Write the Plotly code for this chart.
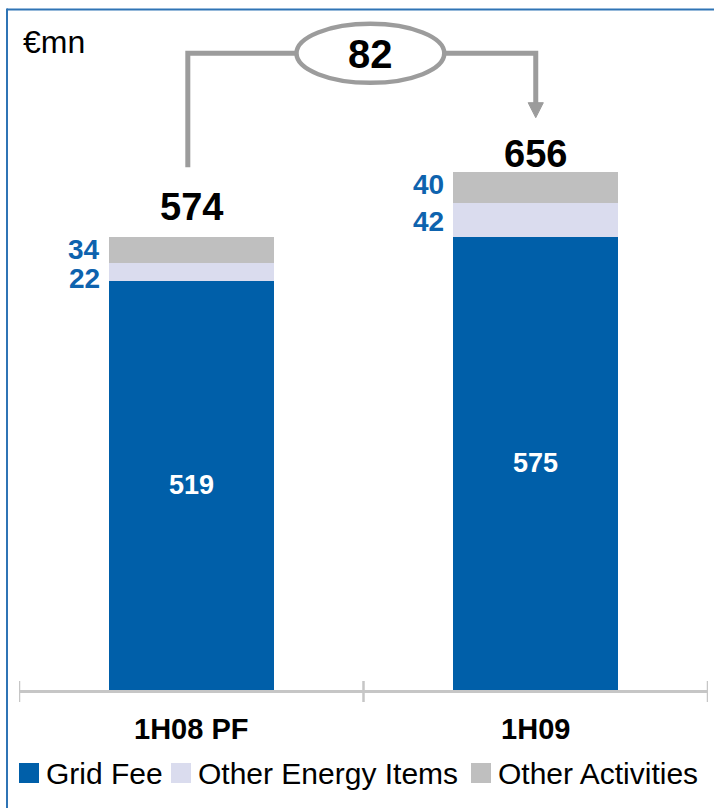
import plotly.graph_objects as go

# ---- data -------------------------------------------------------------
categories = ["1H08 PF", "1H09"]
series_names = ["Grid Fee", "Other Energy Items", "Other Activities"]
grid_fee = [519, 575]
other_energy = [22, 42]
other_activities = [34, 40]
totals = [574, 656]
unit_label = "€mn"

# ---- styling / geometry -------------------------------------------------
W, H = 714, 808
L, R, T, B = 19, 6, 0, 118
PW, PH = W - L - R, H - T - B
Y_MAX = 875
BAR_W = 0.48
FONT = "Liberation Sans, Arial, Helvetica, sans-serif"
C_BLUE = "#005FA9"
C_LIGHT = "#DADCEE"
C_GREY = "#BFBFBF"
C_LABEL = "#0E63AE"
C_BRACKET = "#9C9C9C"
C_AXIS = "#C6C6C6"
C_FRAME = "#2F74B5"
series_colors = [C_BLUE, C_LIGHT, C_GREY]


def pxx(px):
    """pixel x -> paper x"""
    return (px - L) / PW


def pxy(py):
    """pixel y -> paper y"""
    return (T + PH - py) / PH


def units(dpx):
    """vertical pixel distance -> y data units"""
    return dpx * Y_MAX / PH


x = list(range(len(categories)))
stack = [grid_fee, other_energy, other_activities]

fig = go.Figure()
for name, vals, col in zip(series_names, stack, series_colors):
    fig.add_trace(go.Bar(
        x=x, y=vals, name=name, width=BAR_W,
        marker=dict(color=col, line=dict(width=0)),
        showlegend=False, hoverinfo="skip",
    ))

ann = []
shapes = []

# values inside the grid-fee segment
for i in x:
    ann.append(dict(x=i, y=grid_fee[i] / 2, text=f"<b>{grid_fee[i]}</b>",
                    showarrow=False, font=dict(family=FONT, size=27, color="white")))

# small segment values to the left of each bar
seg_shift = {"energy": [-6, -1], "activities": [0, 3]}
for i in x:
    base_e = grid_fee[i]
    base_a = grid_fee[i] + other_energy[i]
    ann.append(dict(x=i - BAR_W / 2, y=base_e + other_energy[i] / 2,
                    text=f"<b>{other_energy[i]}</b>", xanchor="right", xshift=-7,
                    yshift=seg_shift["energy"][i], showarrow=False,
                    font=dict(family=FONT, size=28, color=C_LABEL)))
    ann.append(dict(x=i - BAR_W / 2, y=base_a + other_activities[i] / 2,
                    text=f"<b>{other_activities[i]}</b>", xanchor="right", xshift=-7,
                    yshift=seg_shift["activities"][i], showarrow=False,
                    font=dict(family=FONT, size=28, color=C_LABEL)))

# totals above the stacks
total_lift = [30, 18]
for i in x:
    top = grid_fee[i] + other_energy[i] + other_activities[i]
    ann.append(dict(x=i, y=top, text=f"<b>{totals[i]}</b>", yshift=total_lift[i],
                    showarrow=False, font=dict(family=FONT, size=38, color="black")))

# change bracket between the two totals
change = totals[1] - totals[0]
y_top = totals[0] + units(184)
y_start = totals[0] + units(70)
y_tip = totals[1] + units(55)
head_h = units(15)
head_w = 0.022
shapes.append(dict(type="path", xref="x", yref="y",
                   path=f"M -0.01,{y_start} L -0.01,{y_top} L 1,{y_top} L 1,{y_tip + head_h - 1}",
                   line=dict(color=C_BRACKET, width=5)))
shapes.append(dict(type="path", xref="x", yref="y",
                   path=f"M {1 - head_w},{y_tip + head_h} L {1 + head_w},{y_tip + head_h} L 1,{y_tip} Z",
                   fillcolor=C_BRACKET, line=dict(color=C_BRACKET, width=1)))
ex, ew, eh = 0.52, 0.2145, units(29.5)
shapes.append(dict(type="circle", xref="x", yref="y",
                   x0=ex - ew, x1=ex + ew, y0=y_top - eh, y1=y_top + eh,
                   fillcolor="white", line=dict(color=C_BRACKET, width=4.5)))
ann.append(dict(x=ex, y=y_top, text=f"<b>{change}</b>", showarrow=False, yshift=-1,
                font=dict(family=FONT, size=40, color="black")))

# category separator ticks crossing the axis line
for t in [-0.5, 0.5, 1.5]:
    shapes.append(dict(type="line", xref="x", yref="paper", x0=t, x1=t,
                       y0=pxy(681), y1=pxy(702), line=dict(color=C_AXIS, width=2.5)))

# unit label
ann.append(dict(xref="paper", yref="paper", x=pxx(21), y=pxy(42), xanchor="left",
                yanchor="middle", text=unit_label, showarrow=False,
                font=dict(family=FONT, size=32, color="black")))

# legend
legend_sq_x = [19, 171, 471]
for name, col, sx in zip(series_names, series_colors, legend_sq_x):
    shapes.append(dict(type="rect", xref="paper", yref="paper",
                       x0=pxx(sx), x1=pxx(sx + 20), y0=pxy(783), y1=pxy(763),
                       fillcolor=col, line=dict(width=0)))
    ann.append(dict(xref="paper", yref="paper", x=pxx(sx + 25), y=pxy(773),
                    xanchor="left", yanchor="middle", text=name, showarrow=False,
                    font=dict(family=FONT, size=30, color="black")))

# outer frame: top and left edges
frame = dict(type="line", xref="paper", yref="paper",
             line=dict(color=C_FRAME, width=2))
shapes.append(dict(frame, x0=pxx(7), x1=pxx(W + 10), y0=pxy(9.5), y1=pxy(9.5)))
shapes.append(dict(frame, x0=pxx(7), x1=pxx(7), y0=pxy(8.5), y1=pxy(H + 10)))

fig.update_layout(
    width=W, height=H, margin=dict(l=L, r=R, t=T, b=B, pad=0),
    barmode="stack", plot_bgcolor="white", paper_bgcolor="white",
    annotations=ann, shapes=shapes,
    xaxis=dict(range=[-0.5, 1.5], tickmode="array", tickvals=x, ticktext=categories,
               showgrid=False, zeroline=False, showline=True, linecolor=C_AXIS,
               linewidth=3, ticks="outside", ticklen=11, tickcolor="rgba(0,0,0,0)",
               tickfont=dict(family=FONT, size=29, color="black", weight="bold"),
               fixedrange=True),
    yaxis=dict(range=[0, Y_MAX], visible=False, showgrid=False, zeroline=False,
               fixedrange=True),
)

fig.write_html("out.html")
